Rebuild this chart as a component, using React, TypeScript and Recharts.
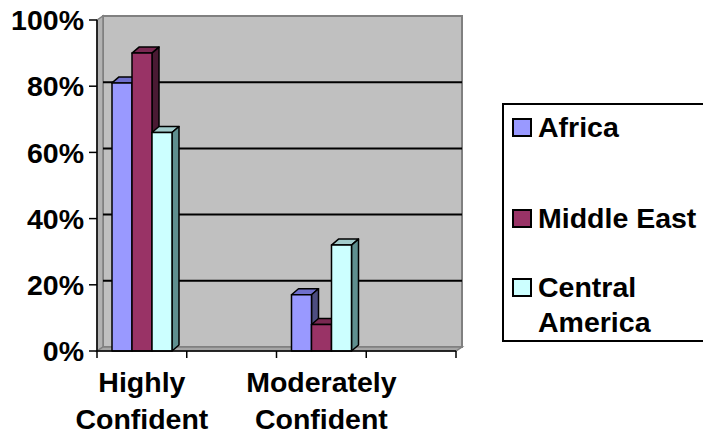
import { BarChart, Bar, XAxis, YAxis, ReferenceArea } from "recharts";

const categories = ["Highly Confident", "", "Moderately Confident", ""];
const africa = [81, null, 17, null];
const middleEast = [90, null, 8, null];
const centralAmerica = [66, null, 32, null];
const yTicks = [0, 20, 40, 60, 80, 100];

const series = [
  { key: "Africa", label: ["Africa"], fill: "#9999FF", top: "#6F6FCC", side: "#4D4D80", values: africa },
  { key: "Middle East", label: ["Middle East"], fill: "#993366", top: "#7A2952", side: "#4A1A33", values: middleEast },
  { key: "Central America", label: ["Central", "America"], fill: "#CCFFFF", top: "#A3CCCC", side: "#5F8F8F", values: centralAmerica },
];

const data = categories.map((name, i) => {
  const row: Record<string, string | number | null> = { name };
  series.forEach((s) => (row[s.key] = s.values[i]));
  return row;
});

const FONT = "Arial, 'Liberation Sans', sans-serif";
const FONT_SIZE = 28.5;
const BAR_DX = 7;
const BAR_DY = 6;
const WALL_DX = 6;
const WALL_DY = 4;

// front face + top + right side, like an Excel 3-D column
function makeBox(fill: string, top: string, side: string) {
  return (props: any) => {
    const { x, y, width: w, height: h } = props;
    if (h == null || w == null) return null;
    const stroke = { stroke: "#000", strokeWidth: 1.5, strokeLinejoin: "round" as const };
    return (
      <g>
        <polygon
          points={`${x},${y} ${x + BAR_DX},${y - BAR_DY} ${x + w + BAR_DX},${y - BAR_DY} ${x + w},${y}`}
          fill={top}
          {...stroke}
        />
        <polygon
          points={`${x + w},${y} ${x + w + BAR_DX},${y - BAR_DY} ${x + w + BAR_DX},${y + h - BAR_DY} ${x + w},${y + h}`}
          fill={side}
          {...stroke}
        />
        <rect x={x} y={y} width={w} height={h} fill={fill} {...stroke} />
      </g>
    );
  };
}

// back wall, side wall, floor, gridlines and the category boundary ticks
function Walls(props: any) {
  const { x, y, width, height } = props;
  const bottom = y + height;
  const right = x + width;
  const backY = (v: number) => bottom - WALL_DY - (v / 100) * height;
  const step = width / categories.length;
  return (
    <g>
      <rect x={x + WALL_DX} y={y - WALL_DY} width={width} height={height} fill="#C0C0C0" stroke="#808080" strokeWidth={2} />
      <polygon
        points={`${x},${y} ${x + WALL_DX},${y - WALL_DY} ${x + WALL_DX},${bottom - WALL_DY} ${x},${bottom}`}
        fill="#B2B2B2"
        stroke="#808080"
        strokeWidth={1.5}
      />
      <polygon
        points={`${x},${bottom} ${x + WALL_DX},${bottom - WALL_DY} ${right + WALL_DX},${bottom - WALL_DY} ${right},${bottom}`}
        fill="#A6A6A6"
        stroke="#808080"
        strokeWidth={1.5}
      />
      {yTicks.slice(1, -1).map((t) => (
        <line key={t} x1={x + WALL_DX} x2={right + WALL_DX} y1={backY(t)} y2={backY(t)} stroke="#000" strokeWidth={2} />
      ))}
      {categories.concat([""]).map((_, i) => (
        <line key={i} x1={x + i * step} x2={x + i * step} y1={bottom} y2={bottom + 7} stroke="#000" strokeWidth={1.5} />
      ))}
    </g>
  );
}

function CategoryTick(props: any) {
  const { x, y, payload } = props;
  if (!payload.value) return null;
  const words = String(payload.value).split(" ");
  return (
    <text x={x} y={y} textAnchor="middle" fill="#000" fontSize={FONT_SIZE} fontWeight="bold" fontFamily={FONT}>
      {words.map((w, i) => (
        <tspan key={i} x={x} dy={i === 0 ? 33 : 37}>
          {w}
        </tspan>
      ))}
    </text>
  );
}

// legend rows: top of each text line inside the box, 35px line height
const legendTops = [4.6, 95.6, 164.6];

export default function App() {
  return (
    <div
      style={{
        position: "absolute",
        left: 0,
        top: 0,
        width: 703,
        height: 437,
        overflow: "hidden",
        background: "#fff",
        fontFamily: FONT,
      }}
    >
      <BarChart
        width={703}
        height={437}
        data={data}
        margin={{ top: 20, right: 247, left: 0, bottom: 26 }}
        barCategoryGap={15}
        barGap={0}
      >
        <ReferenceArea y1={0} y2={100} shape={Walls} ifOverflow="visible" />
        <XAxis
          dataKey="name"
          interval={0}
          height={60}
          axisLine={{ stroke: "#000", strokeWidth: 1.5 }}
          tickLine={false}
          tick={CategoryTick}
        />
        <YAxis
          domain={[0, 100]}
          ticks={yTicks}
          width={97}
          tickFormatter={(v) => `${v}%`}
          axisLine={{ stroke: "#000", strokeWidth: 1.5 }}
          tickLine={{ stroke: "#000", strokeWidth: 1.5 }}
          tickSize={8}
          tickMargin={5}
          tick={{ fontSize: FONT_SIZE, fontWeight: "bold", fill: "#000", fontFamily: FONT }}
        />
        {series.map((s) => (
          <Bar key={s.key} dataKey={s.key} isAnimationActive={false} shape={makeBox(s.fill, s.top, s.side)} />
        ))}
      </BarChart>
      {/* legend box runs off the right edge, so it has no right border */}
      <div
        style={{
          position: "absolute",
          left: 502,
          top: 103,
          width: 201,
          height: 239,
          borderTop: "2px solid #000",
          borderBottom: "2px solid #000",
          borderLeft: "2px solid #000",
          background: "#fff",
          boxSizing: "border-box",
        }}
      >
        {series.map((s, i) => (
          <div
            key={s.key}
            style={{ position: "absolute", left: 8, top: legendTops[i], display: "flex", alignItems: "flex-start" }}
          >
            <div
              style={{
                width: 20,
                height: 19,
                marginTop: 8,
                border: "2px solid #000",
                boxSizing: "border-box",
                background: s.fill,
                flexShrink: 0,
              }}
            />
            <div
              style={{
                marginLeft: 6,
                fontSize: FONT_SIZE,
                fontWeight: "bold",
                lineHeight: "35px",
                color: "#000",
                whiteSpace: "nowrap",
              }}
            >
              {s.label.map((l) => (
                <div key={l}>{l}</div>
              ))}
            </div>
          </div>
        ))}
      </div>
    </div>
  );
}
